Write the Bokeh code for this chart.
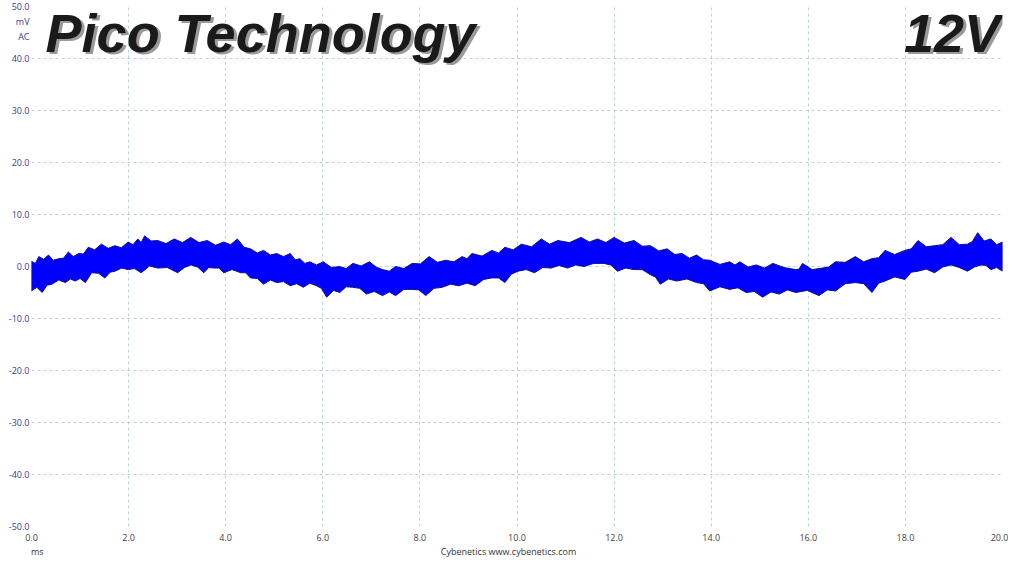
from bokeh.plotting import figure
from bokeh.models import Range1d, FixedTicker, NumeralTickFormatter, Label, LinearAxis
from bokeh.embed import file_html
from bokeh.resources import INLINE

# --- ripple envelope: (ms, mV)
upper_env = [
    (0.0, 1.0), (0.08, 0.6), (0.15, 1.9), (0.25, 1.4), (0.35, 2.2), (0.45, 1.2),
    (0.56, 1.5), (0.66, 1.6), (0.76, 2.8), (0.86, 1.9), (0.97, 2.5), (1.07, 2.4),
    (1.17, 3.7), (1.30, 3.2), (1.44, 4.3), (1.58, 3.5), (1.72, 4.0), (1.85, 3.6),
    (1.99, 4.7), (2.09, 4.2), (2.19, 5.3), (2.26, 4.6), (2.33, 5.9), (2.46, 4.9),
    (2.60, 5.0), (2.77, 4.4), (2.94, 5.3), (3.11, 4.6), (3.28, 5.6), (3.45, 4.6),
    (3.62, 5.0), (3.79, 4.1), (3.96, 4.7), (4.10, 4.2), (4.24, 5.3), (4.38, 3.7),
    (4.51, 3.4), (4.65, 2.6), (4.78, 3.1), (4.92, 2.2), (5.05, 2.5), (5.19, 1.9),
    (5.33, 2.5), (5.43, 1.3), (5.53, 1.5), (5.63, 0.6), (5.73, 0.9), (5.87, 0.3),
    (6.01, 0.9), (6.18, -0.2), (6.35, 0.0), (6.48, -0.4), (6.62, 0.6), (6.79, 0.1),
    (6.96, 0.9), (7.10, -0.1), (7.23, -0.6), (7.37, -0.9), (7.50, 0.0), (7.67, -0.4),
    (7.84, 0.6), (8.01, 0.5), (8.19, 1.9), (8.36, 0.8), (8.53, 1.2), (8.70, 0.9),
    (8.87, 1.9), (8.97, 1.5), (9.07, 2.5), (9.28, 2.0), (9.48, 3.1), (9.62, 2.6),
    (9.75, 3.7), (9.92, 3.2), (10.09, 4.3), (10.30, 3.8), (10.50, 5.3), (10.67, 4.3),
    (10.84, 5.0), (11.08, 4.6), (11.32, 5.6), (11.49, 4.7), (11.66, 5.3), (11.83, 4.6),
    (12.00, 5.6), (12.21, 4.5), (12.41, 5.0), (12.58, 3.9), (12.75, 4.0), (12.92, 3.0),
    (13.09, 3.4), (13.25, 2.3), (13.40, 2.5), (13.55, 1.6), (13.70, 2.2), (13.84, 1.3),
    (13.97, 1.2), (14.18, 0.4), (14.38, 0.9), (14.49, 0.3), (14.59, 0.9), (14.76, -0.1),
    (14.93, 0.3), (15.10, -0.3), (15.27, 0.6), (15.50, -0.2), (15.74, -0.6), (15.81, -0.5),
    (15.88, 0.6), (16.08, -0.6), (16.29, -0.3), (16.42, -0.1), (16.56, 0.9), (16.76, 0.8),
    (16.97, 1.9), (17.14, 0.9), (17.31, 1.5), (17.45, 1.7), (17.58, 3.1), (17.78, 2.3),
    (17.99, 3.1), (18.12, 3.4), (18.26, 5.0), (18.43, 3.8), (18.60, 4.0), (18.77, 4.2),
    (18.94, 5.6), (19.11, 4.2), (19.28, 4.3), (19.38, 4.8), (19.49, 6.5), (19.62, 4.9),
    (19.76, 5.3), (19.88, 4.2), (20.0, 4.7),
]
lower_env = [
    (0.0, -4.7), (0.11, -4.0), (0.22, -5.0), (0.32, -3.6), (0.42, -3.4), (0.56, -2.6),
    (0.70, -3.1), (0.80, -2.4), (0.90, -2.8), (1.00, -2.3), (1.11, -3.1), (1.17, -2.2),
    (1.24, -1.2), (1.38, -1.3), (1.51, -2.2), (1.62, -1.1), (1.72, -0.9), (1.86, -0.3),
    (1.99, -0.6), (2.12, -0.4), (2.26, -1.2), (2.43, 0.1), (2.60, -0.3), (2.80, -0.2),
    (3.01, -1.2), (3.15, -0.2), (3.28, 0.3), (3.42, -0.1), (3.55, -1.2), (3.65, -0.2),
    (3.76, -0.3), (3.86, -0.3), (3.96, -1.2), (4.13, -0.6), (4.31, -1.2), (4.41, -1.2),
    (4.51, -2.2), (4.65, -2.3), (4.78, -3.4), (4.92, -2.6), (5.05, -3.1), (5.19, -2.9),
    (5.33, -3.7), (5.46, -3.3), (5.60, -4.0), (5.73, -3.2), (5.87, -3.7), (5.97, -4.2),
    (6.08, -5.9), (6.22, -4.6), (6.35, -5.0), (6.48, -3.9), (6.62, -4.0), (6.76, -4.2),
    (6.90, -5.3), (7.06, -4.8), (7.23, -5.6), (7.37, -4.9), (7.50, -5.6), (7.67, -4.4),
    (7.84, -4.4), (7.98, -4.5), (8.12, -5.6), (8.29, -4.2), (8.46, -4.0), (8.63, -3.4),
    (8.80, -3.7), (8.97, -3.2), (9.14, -3.7), (9.31, -2.5), (9.48, -2.2), (9.62, -2.2),
    (9.75, -3.1), (9.88, -1.5), (10.02, -0.9), (10.19, -0.6), (10.36, -1.2), (10.53, -0.2),
    (10.70, -0.3), (10.87, 0.2), (11.04, -0.3), (11.21, 0.3), (11.38, 0.0), (11.58, 0.6),
    (11.79, 0.6), (11.93, 0.3), (12.07, -0.9), (12.24, -0.3), (12.41, -0.6), (12.58, -0.6),
    (12.75, -1.6), (12.85, -2.0), (12.95, -3.4), (13.12, -2.4), (13.29, -2.8), (13.50, -2.4),
    (13.70, -3.1), (13.84, -3.3), (13.97, -4.7), (14.18, -3.9), (14.38, -4.4), (14.55, -4.1),
    (14.72, -5.0), (14.89, -4.8), (15.06, -5.9), (15.23, -4.9), (15.40, -5.3), (15.57, -4.5),
    (15.74, -5.0), (15.98, -4.6), (16.22, -5.6), (16.39, -4.5), (16.56, -4.7), (16.76, -3.3),
    (16.97, -3.1), (17.14, -3.3), (17.31, -5.0), (17.45, -3.2), (17.58, -2.8), (17.78, -2.0),
    (17.99, -2.5), (18.12, -1.1), (18.26, -0.9), (18.43, -0.5), (18.60, -1.2), (18.77, -0.1),
    (18.94, 0.3), (19.11, -0.2), (19.28, -0.9), (19.42, -0.1), (19.56, 0.3), (19.66, 0.2),
    (19.76, -0.6), (19.88, -0.2), (20.0, -0.9),
]

x_ticks = [0, 2, 4, 6, 8, 10, 12, 14, 16, 18, 20]
y_ticks = [-50, -40, -30, -20, -10, 0, 10, 20, 30, 40, 50]
unit_ticks = {47.2: "mV", 44.3: "AC"}
footer_ticks = {0.12: "ms", 9.85: "Cybenetics  www.cybenetics.com"}

p = figure(width=1008, height=560, output_backend="svg", toolbar_location=None,
           x_range=Range1d(0, 20), y_range=Range1d(-50, 50),
           min_border_left=31, min_border_right=6, min_border_top=6, min_border_bottom=0)
p.outline_line_color = None
p.background_fill_color = "white"
p.border_fill_color = "white"

for ax in (p.xaxis, p.yaxis):
    ax.formatter = NumeralTickFormatter(format="0.0")
    ax.axis_line_color = None
    ax.major_tick_line_color = None
    ax.minor_tick_line_color = None
    ax.major_tick_out = 0
    ax.major_tick_in = 0
    ax.minor_tick_out = 0
    ax.major_label_text_font = "Open Sans"
    ax.major_label_text_font_size = "9px"
p.xaxis.ticker = FixedTicker(ticks=x_ticks)
p.yaxis.ticker = FixedTicker(ticks=y_ticks + list(unit_ticks))
p.yaxis.major_label_overrides = unit_ticks
p.yaxis.major_label_text_color = "#3a3a9a"
p.yaxis.major_label_standoff = 2
p.xaxis.major_label_text_color = "#444444"
p.xaxis.major_label_standoff = 7

# footer line: unit and site credit as a second, bare axis
foot = LinearAxis(ticker=FixedTicker(ticks=list(footer_ticks)),
                  major_label_overrides=footer_ticks,
                  axis_line_color=None, major_tick_line_color=None,
                  minor_tick_line_color=None, major_tick_out=0, major_tick_in=0,
                  minor_tick_out=0, major_label_standoff=1,
                  major_label_text_font="Open Sans", major_label_text_font_size="9px",
                  major_label_text_color="#333333")
p.add_layout(foot, "below")

p.xgrid.ticker = FixedTicker(ticks=x_ticks)
p.ygrid.ticker = FixedTicker(ticks=y_ticks)
p.grid.grid_line_color = "#b6d4dc"
p.grid.grid_line_dash = "3 3"
p.grid.grid_line_width = 1

# --- ripple band
band_x = [t for t, _ in upper_env] + [t for t, _ in lower_env[::-1]]
band_y = [v for _, v in upper_env] + [v for _, v in lower_env[::-1]]
p.patch(band_x, band_y, fill_color="#0000ff", line_color="#10108a", line_width=1)

# --- headline texts with drop shadow
for txt, xx, align in (("Pico Technology", 0.29, "left"), ("12V", 19.95, "right")):
    p.add_layout(Label(x=xx, y=45.0, x_offset=3, y_offset=-2, text=txt, text_align=align,
                       text_baseline="alphabetic", text_font="Liberation Sans",
                       text_font_style="bold italic", text_font_size="54px",
                       text_color="#9a9a9a"))
    p.add_layout(Label(x=xx, y=45.0, text=txt, text_align=align,
                       text_baseline="alphabetic", text_font="Liberation Sans",
                       text_font_style="bold italic", text_font_size="54px",
                       text_color="#1a1a1a"))

open("out.html", "w").write(file_html(p, INLINE))
